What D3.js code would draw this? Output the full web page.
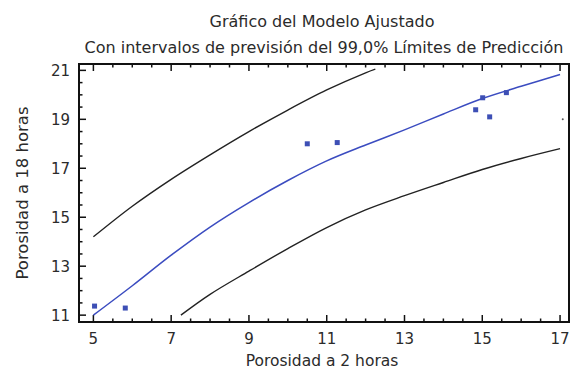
<!DOCTYPE html>
<html>
<head>
<meta charset="utf-8">
<script src="https://cdn.jsdelivr.net/npm/d3@7"></script>
<style>
  html, body { margin: 0; padding: 0; background: #fff; }
  svg { display: block; }
  text { font-family: "DejaVu Sans", Verdana, sans-serif; fill: #2b2b2b; }
</style>
</head>
<body>
<script>
(() => {
  const W = 571, H = 370;

  // observed points
  const obsX = [5.03, 5.82, 10.5, 11.27, 14.83, 15.01, 15.19, 15.62];
  const obsY = [11.37, 11.29, 18.0, 18.05, 19.39, 19.88, 19.1, 20.09];

  // fitted model
  const fitX = [5, 6, 7, 8, 9, 10, 11, 12, 13, 14, 15, 16, 17];
  const fitY = [11.0, 12.2, 13.45, 14.6, 15.6, 16.5, 17.3, 17.95, 18.57, 19.22, 19.85, 20.35, 20.83];

  // prediction limits
  const upX = [5, 6, 7, 8, 9, 10, 11, 12, 12.25];
  const upY = [14.2, 15.45, 16.55, 17.55, 18.5, 19.38, 20.2, 20.9, 21.05];
  const loX = [7.25, 8, 9, 10, 11, 12, 13, 14, 15, 16, 17];
  const loY = [11.0, 11.85, 12.8, 13.72, 14.58, 15.3, 15.88, 16.42, 16.95, 17.4, 17.8];

  // stray mark at right edge
  const strayX = [17.07], strayY = [19.0];

  const xTicks = [5, 7, 9, 11, 13, 15, 17];
  const yTicks = [11, 13, 15, 17, 19, 21];
  const minorStep = 0.5;

  const title = "Gráfico del Modelo Ajustado";
  const subtitle = "Con intervalos de previsión del 99,0% Límites de Predicción";
  const xLabel = "Porosidad a 2 horas";
  const yLabel = "Porosidad a 18 horas";

  const plot = { l: 79, r: 569, t: 64, b: 322 };

  const x = d3.scaleLinear().domain([4.63, 17.23]).range([plot.l, plot.r]);
  const y = d3.scaleLinear().domain([10.72, 21.26]).range([plot.b, plot.t]);

  const svg = d3.select("body").append("svg")
    .attr("width", W).attr("height", H)
    .attr("viewBox", [0, 0, W, H]);

  const cx = (plot.l + plot.r) / 2;

  svg.append("text")
    .attr("x", cx - 2).attr("y", 27)
    .attr("text-anchor", "middle")
    .style("font-size", "16px")
    .text(title);

  svg.append("text")
    .attr("x", cx).attr("y", 53)
    .attr("text-anchor", "middle")
    .style("font-size", "16px")
    .text(subtitle);

  const minorX = d3.range(5, 17.01, minorStep).filter(v => !xTicks.includes(v));
  const minorY = d3.range(11, 21.01, minorStep).filter(v => !yTicks.includes(v));

  const gTicks = svg.append("g").attr("stroke", "#111").attr("stroke-width", 1.5);

  // bottom and top ticks (inward)
  [plot.b, plot.t].forEach((edge, i) => {
    const dir = i === 0 ? -1 : 1;
    gTicks.selectAll(null).data(xTicks).join("line")
      .attr("x1", d => x(d)).attr("x2", d => x(d))
      .attr("y1", edge).attr("y2", edge + dir * 7);
    gTicks.selectAll(null).data(minorX).join("line")
      .attr("x1", d => x(d)).attr("x2", d => x(d))
      .attr("y1", edge).attr("y2", edge + dir * 3.5);
  });

  // left ticks (inward)
  gTicks.selectAll(null).data(yTicks).join("line")
    .attr("x1", plot.l).attr("x2", plot.l + 7)
    .attr("y1", d => y(d)).attr("y2", d => y(d));
  gTicks.selectAll(null).data(minorY).join("line")
    .attr("x1", plot.l).attr("x2", plot.l + 3.5)
    .attr("y1", d => y(d)).attr("y2", d => y(d));

  svg.append("g").selectAll("text").data(xTicks).join("text")
    .attr("x", d => x(d)).attr("y", 344)
    .attr("text-anchor", "middle")
    .style("font-size", "15px")
    .text(d => d);

  svg.append("g").selectAll("text").data(yTicks).join("text")
    .attr("x", 70).attr("y", d => y(d) + 5.5)
    .attr("text-anchor", "end")
    .style("font-size", "15px")
    .text(d => d);

  svg.append("text")
    .attr("x", cx - 2).attr("y", 366)
    .attr("text-anchor", "middle")
    .style("font-size", "15.5px")
    .text(xLabel);

  svg.append("text")
    .attr("transform", `translate(28,${(plot.t + plot.b) / 2}) rotate(-90)`)
    .attr("text-anchor", "middle")
    .style("font-size", "16.5px")
    .text(yLabel);

  const line = d3.line().curve(d3.curveCatmullRom.alpha(0.5))
    .x(d => x(d[0])).y(d => y(d[1]));

  const gLines = svg.append("g").attr("fill", "none");

  gLines.append("path")
    .datum(d3.zip(upX, upY))
    .attr("stroke", "#222").attr("stroke-width", 1.4)
    .attr("d", line);

  gLines.append("path")
    .datum(d3.zip(loX, loY))
    .attr("stroke", "#222").attr("stroke-width", 1.4)
    .attr("d", line);

  gLines.append("path")
    .datum(d3.zip(fitX, fitY))
    .attr("stroke", "#3b4cc0").attr("stroke-width", 1.5)
    .attr("d", line);

  svg.append("g").selectAll("rect").data(d3.zip(obsX, obsY)).join("rect")
    .attr("x", d => x(d[0]) - 2.5).attr("y", d => y(d[1]) - 2.5)
    .attr("width", 5).attr("height", 5)
    .attr("fill", "#3d4fb5");

  svg.append("g").selectAll("circle").data(d3.zip(strayX, strayY)).join("circle")
    .attr("cx", d => x(d[0])).attr("cy", d => y(d[1]))
    .attr("r", 1).attr("fill", "#555");

  // frame
  svg.append("rect")
    .attr("x", plot.l).attr("y", plot.t)
    .attr("width", plot.r - plot.l).attr("height", plot.b - plot.t)
    .attr("fill", "none").attr("stroke", "#111").attr("stroke-width", 2);
})();
</script>
</body>
</html>
